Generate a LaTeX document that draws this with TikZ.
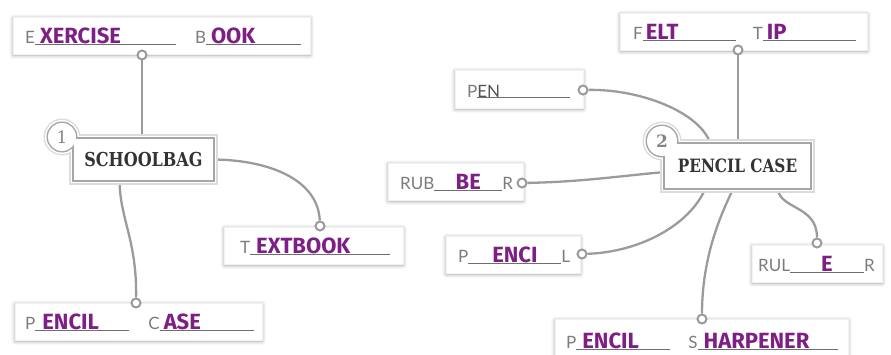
\documentclass[tikz,border=0pt]{standalone}
\usepackage{fontspec}
\usepackage{tikz}
\usetikzlibrary{positioning,backgrounds,shadows.blur}

\setmainfont{Lato}
\newfontfamily\hubfont{DejaVu Serif}
\newfontfamily\ansfont{Fira Sans}

\definecolor{linegray}{HTML}{9B9B9B}
\definecolor{rulegray}{HTML}{6E6E6E}
\definecolor{lettergray}{HTML}{7C7C7C}
\definecolor{printgray}{HTML}{555555}
\definecolor{answer}{HTML}{7E1F86}
\definecolor{hubtext}{HTML}{333333}
\definecolor{framelight}{HTML}{DCDCDC}
\definecolor{framegray}{HTML}{A6A6A6}

\newcommand{\ltr}[1]{{\fontsize{17}{20}\selectfont\color{lettergray}#1}}
\newcommand{\ans}[1]{{\ansfont\bfseries\fontsize{22}{22}\selectfont\color{answer}#1}}
\newcommand{\blank}[3]{\rlap{\color{rulegray}\rule[-1pt]{#1}{1pt}}\makebox[#1][#2]{#3}}
\newcommand{\hubtitle}[1]{\scalebox{1}[1.2]{#1}}

% double frame with round badge behind a hub node
\newcommand{\hubframe}[3]{%
	\foreach \w/\c in {9pt/framelight, 6pt/white, 3pt/framegray} {
		\draw[line width=\w, draw=\c, fill=\c] (#1.north west) rectangle (#1.south east);
		\draw[line width=\w, draw=\c, fill=\c] #2 circle (#3);
	}
	\fill[white] (#1.north west) rectangle (#1.south east);
	\fill[white] #2 circle (#3);
}

\begin{document}
\begin{tikzpicture}[x=1pt, y=-1pt,
	card/.style={rectangle, fill=white, draw=black!5, anchor=north west, inner sep=0pt,
		minimum height=37pt, text height=18pt, text depth=2pt, align=left,
		blur shadow={shadow xshift=0pt, shadow yshift=-1pt, shadow blur radius=4pt, shadow blur steps=8, shadow opacity=35}},
	dot/.style={circle, draw=linegray, fill=white, line width=2pt, inner sep=0pt, minimum size=9pt},
	link/.style={draw=linegray, line width=2.3pt},
	hub/.style={inner sep=0pt, font=\hubfont\bfseries\fontsize{16}{18}\selectfont, text=hubtext},
	badge/.style={inner sep=0pt, font=\hubfont\fontsize{17}{17}\selectfont, text=framegray!80!black}]
	\useasboundingbox (0, 0) rectangle (891, 355);

	% hubs
	\node [hub, minimum width=139pt, minimum height=41pt] (sb) at (143.5, 159.5) {\hubtitle{SCHOOLBAG}};
	\node [badge] (sbn) at (62, 137) {1};
	\node [hub, minimum width=145pt, minimum height=44pt, font=\hubfont\bfseries\fontsize{15.3}{18}\selectfont] (pc) at (737.5, 166) {\hubtitle{PENCIL CASE}};
	\node [badge, font=\hubfont\bfseries\fontsize{17}{17}\selectfont] (pcn) at (662, 141) {2};

	% word cards
	\node [card, text width=297pt] (ex) at (13, 17) {\hspace*{12pt}\ltr{E}\blank{141pt}{l}{\hspace{5pt}\ans{XERCISE}}\hspace{19pt}\ltr{B}\blank{95pt}{l}{\hspace{5pt}\ans{OOK}}};
	\node [card, text width=179pt] (tb) at (224, 227) {\hspace*{16pt}\ltr{T}\blank{140pt}{l}{\hspace{6pt}\ans{EXTBOOK}}};
	\node [card, text width=247pt] (pc1) at (15, 303) {\hspace*{10pt}\ltr{P}\blank{94pt}{l}{\hspace{7pt}\ans{ENCIL}}\hspace{19pt}\ltr{C}\blank{94pt}{l}{\hspace{4pt}\ans{ASE}}};
	\node [card, text width=247pt] (ft) at (620, 13) {\hspace*{13pt}\ltr{F}\blank{93pt}{l}{\hspace{3pt}\ans{ELT}}\hspace{17pt}\ltr{T}\blank{93pt}{l}{\hspace{4pt}\ans{IP}}};
	\node [card, text width=128pt, minimum height=38pt] (pen) at (455, 70) {\hspace*{12pt}\ltr{P}\blank{93pt}{l}{\ltr{\color{printgray}EN}}};
	\node [card, text width=135pt] (rub) at (388, 163) {\hspace*{12pt}\ltr{RUB}\blank{68pt}{c}{\ans{BE}}\ltr{R}};
	\node [card, text width=134pt] (pl) at (446, 236) {\hspace*{12pt}\ltr{P}\blank{93pt}{c}{\ans{ENCI}}\ltr{L}};
	\node [card, text width=130pt] (rul) at (752, 245) {\hspace*{6pt}\ltr{RUL}\blank{74pt}{c}{\ans{E}}\ltr{R}};
	\node [card, text width=293pt, minimum height=43pt] (sh) at (555, 319) {\hspace*{11pt}\ltr{P}\blank{94pt}{l}{\hspace{6pt}\ans{ENCIL}}\hspace{18pt}\ltr{S}\blank{140pt}{l}{\hspace{6pt}\ans{HARPENER}}};

	% connector ends
	\node [dot] (exd) at (142, 55) {};
	\node [dot] (tbd) at (320, 226) {};
	\node [dot] (pcd) at (136, 303) {};
	\node [dot] (ftd) at (738, 50) {};
	\node [dot] (pend) at (583, 90) {};
	\node [dot] (rubd) at (522, 183) {};
	\node [dot] (pld) at (582, 254) {};
	\node [dot] (ruld) at (817, 243) {};
	\node [dot] (shd) at (702, 319) {};

	\begin{scope}[on background layer]
		% connectors
		\draw[link] (exd) -- (exd |- sb.north);
		\draw[link] (sb.east) .. controls (270, 160) and (318, 180) .. (tbd);
		\draw[link] ([xshift=-24pt]sb.south) .. controls (120, 220) and (137, 240) .. (pcd);
		\draw[link] (pend) .. controls (640, 89) and (700, 112) .. ([xshift=-27pt]pc.north);
		\draw[link] (ftd) -- (ftd |- pc.north);
		\draw[link] (rubd) .. controls (580, 182) and (620, 176) .. ([yshift=-6pt]pc.west);
		\draw[link] (pld) .. controls (640, 252) and (690, 225) .. ([xshift=-32pt]pc.south);
		\draw[link] (shd) .. controls (702, 255) and (722, 212) .. ([xshift=-4pt]pc.south);
		\draw[link] ([xshift=40pt]pc.south) .. controls (780, 210) and (817, 205) .. (ruld);

		% hub frames
		\hubframe{sb}{(sbn.center)}{14pt}
		\hubframe{pc}{(pcn.center)}{15pt}
	\end{scope}
\end{tikzpicture}
\end{document}
